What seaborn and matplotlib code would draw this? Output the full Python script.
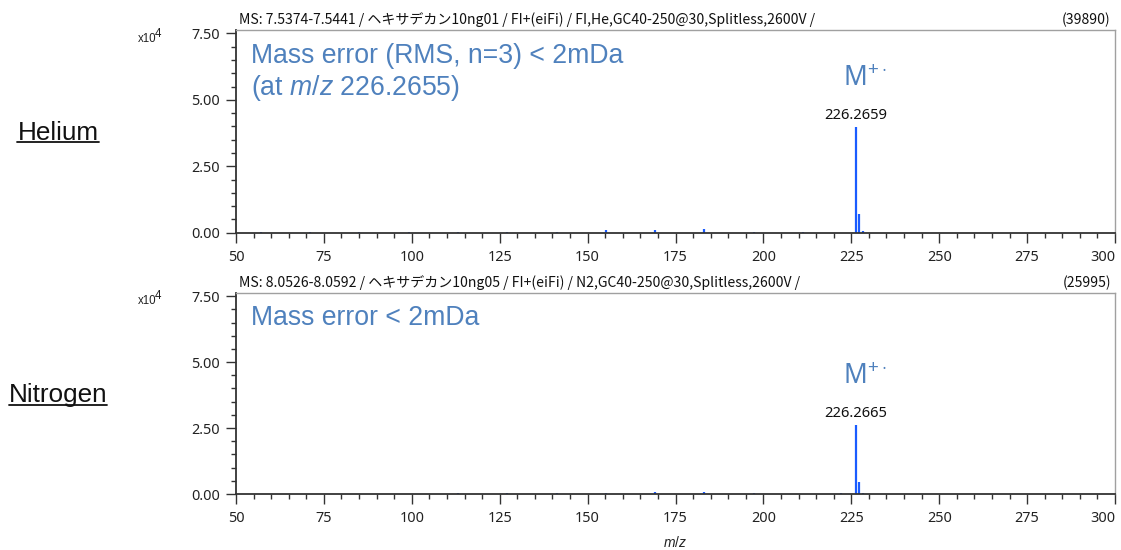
import matplotlib
matplotlib.use("Agg")
import matplotlib.pyplot as plt
from matplotlib.ticker import MultipleLocator, FuncFormatter
from matplotlib.lines import Line2D
import seaborn as sns
import pandas as pd

# ---------------- data ----------------
he_mz = [57.07, 71.09, 85.10, 99.12, 113.13, 127.15, 141.16, 155.18, 169.20, 183.21, 197.23, 211.24, 226.2659, 227.27, 228.27]
he_int = [150, 180, 200, 220, 250, 300, 400, 1200, 1100, 1300, 300, 250, 39890, 6900, 600]
n2_mz = [57.07, 71.09, 85.10, 99.12, 113.13, 127.15, 141.16, 155.18, 169.20, 183.21, 197.23, 222.0, 226.2665, 227.27, 228.27]
n2_int = [120, 150, 160, 180, 200, 250, 300, 500, 800, 900, 250, 300, 25995, 4700, 400]

titles = ["MS: 7.5374-7.5441 / ヘキサデカン10ng01 / FI+(eiFi) / FI,He,GC40-250@30,Splitless,2600V /",
          "MS: 8.0526-8.0592 / ヘキサデカン10ng05 / FI+(eiFi) / N2,GC40-250@30,Splitless,2600V /"]
base_peaks = ["(39890)", "(25995)"]
peak_labels = ["226.2659", "226.2665"]
gas_labels = ["Helium", "Nitrogen"]
notes = [["Mass error (RMS, n=3) < 2mDa", "(at $\\it{m/z}$ 226.2655)"], ["Mass error < 2mDa"]]
x_ticks = [50, 75, 100, 125, 150, 175, 200, 225, 250, 275, 300]

# ---------------- style ----------------
sns.set_theme(style="ticks")
plt.rcParams['font.family'] = ['Noto Sans', 'DejaVu Sans']
plt.rcParams['mathtext.fontset'] = 'custom'
plt.rcParams['mathtext.rm'] = 'Liberation Sans'
plt.rcParams['mathtext.it'] = 'Liberation Sans:italic'

peak_color = "#1a5cff"
note_color = "#4f81bd"

fig = plt.figure(figsize=(11.21, 5.5), dpi=100)
L, R = 236 / 1121, 1115 / 1121
ax_top = fig.add_axes([L, 1 - 232.7 / 550, R - L, (232.7 - 30) / 550])
ax_bot = fig.add_axes([L, 1 - 494 / 550, R - L, (494 - 292.7) / 550])

datasets = [pd.DataFrame({"mz": he_mz, "intensity": he_int}),
            pd.DataFrame({"mz": n2_mz, "intensity": n2_int})]
note_y = [[0.872, 0.714], [0.874]]
mlabel_y = [5.75e4, 4.42e4]
gas_y = [1 - 133 / 550, 1 - 395 / 550]
exp_y = [39, 301]
gas_texts = []

for i, ax in enumerate([ax_top, ax_bot]):
    df = datasets[i]
    ax.vlines(df["mz"], 0, df["intensity"], color=peak_color, lw=1.6)
    ax.axhline(0, color=peak_color, lw=0.6, zorder=1)
    ax.set_xlim(50, 300)
    ax.set_ylim(0, 7.63e4)
    ax.set_xticks(x_ticks)
    ax.xaxis.set_minor_locator(MultipleLocator(5))
    ax.yaxis.set_major_locator(MultipleLocator(2.5e4))
    ax.yaxis.set_minor_locator(MultipleLocator(0.5e4))
    ax.yaxis.set_major_formatter(FuncFormatter(lambda v, p: f"{v/1e4:.2f}"))
    ax.tick_params(axis='both', which='major', length=7.2, width=1, color='#333333',
                   labelsize=10.4, labelcolor='#222222', direction='out')
    ax.tick_params(axis='x', which='major', pad=5)
    ax.tick_params(axis='y', which='major', pad=4.3)
    ax.tick_params(axis='both', which='minor', length=3.5, width=1, color='#333333', direction='out')
    for s in ['left', 'bottom']:
        ax.spines[s].set_color('#333333')
        ax.spines[s].set_linewidth(1.3)
    for s in ['top', 'right']:
        ax.spines[s].set_color('#a0a0a0')
        ax.spines[s].set_linewidth(1.0)
    ax.set_ylabel("")
    # keep last x tick label inside
    ax.get_xticklabels()[-1].set_horizontalalignment('right')
    # title line
    ax.annotate(titles[i], xy=(0, 1), xycoords='axes fraction', xytext=(2, 2),
                textcoords='offset points', ha='left', va='bottom', fontsize=10.1,
                family=['Noto Sans CJK JP', 'DejaVu Sans'], color='#111111')
    ax.annotate(base_peaks[i], xy=(1, 1), xycoords='axes fraction', xytext=(-3, 2),
                textcoords='offset points', ha='right', va='bottom', fontsize=10.1,
                family=['Noto Sans CJK JP', 'DejaVu Sans'], color='#111111')
    # x10^4 exponent marker
    fig.text(138 / 1121, 1 - exp_y[i] / 550, "x10", ha='left', va='center', fontsize=8.3,
             color='#222222', family='Liberation Sans')
    fig.text(155 / 1121, 1 - (exp_y[i] - 5) / 550, "4", ha='left', va='center', fontsize=8.3,
             color='#222222', family='Liberation Sans')
    # notes
    for line, yy in zip(notes[i], note_y[i]):
        ax.text(0.017, yy, line, transform=ax.transAxes, ha='left', va='center',
                fontsize=19.2, color=note_color, family='Liberation Sans')
    # peak label
    top_idx = df["intensity"].idxmax()
    px, py = df.loc[top_idx, "mz"], df.loc[top_idx, "intensity"]
    ax.annotate(peak_labels[i], xy=(px, py), xytext=(0, 3), textcoords='offset points',
                ha='center', va='bottom', fontsize=10.6, color='#111111')
    ax.text(222.6, mlabel_y[i], "M$^{+\\cdot}$", ha='left', va='center', fontsize=19,
            color=note_color)
    # gas label
    t = fig.text(58 / 1121, gas_y[i], gas_labels[i], ha='center', va='center', fontsize=18.8,
                 color='#111111', family='Liberation Sans')
    gas_texts.append(t)

ax_top.set_xlabel("")
ax_bot.set_xlabel("$\\it{m/z}$", fontsize=10, color='#222222', labelpad=7)

# underline the gas labels
fig.canvas.draw()
renderer = fig.canvas.get_renderer()
W, H = fig.bbox.width, fig.bbox.height
for t in gas_texts:
    bb = t.get_window_extent(renderer)
    yline = (bb.y0 + 2.5) / H
    fig.add_artist(Line2D([bb.x0 / W, bb.x1 / W], [yline, yline], color='#111111', lw=1.3))

fig.savefig("out.png", dpi=100)
